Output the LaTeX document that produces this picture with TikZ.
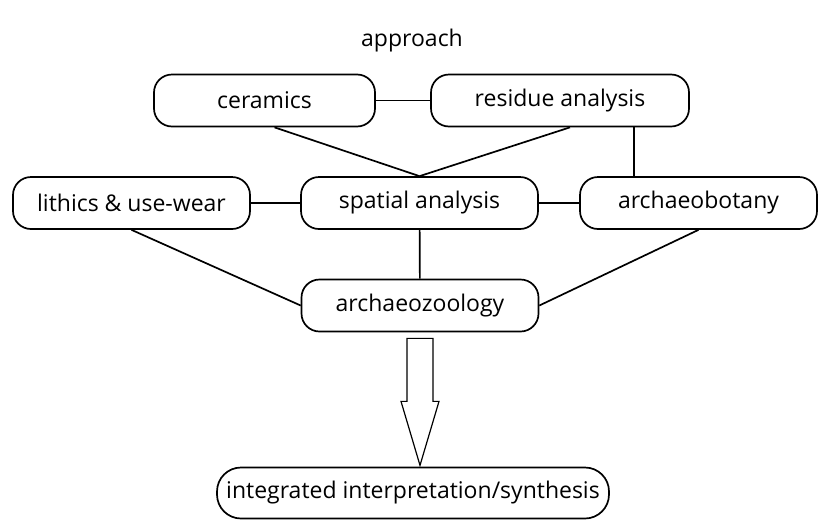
\documentclass[tikz,border=0pt]{standalone}
\usepackage{fontspec}
\setmainfont{Open Sans}
\usetikzlibrary{positioning,calc}

\tikzset{
    field/.style={draw, line width=0.85pt, rounded corners=9pt,
        minimum height=26pt, minimum width=118.5pt, inner sep=0pt},
    link/.style={line width=0.85pt}
}

\begin{document}
\begin{tikzpicture}[x=0.5pt, y=-0.5pt, font=\fontsize{11.5}{14}\selectfont]
\useasboundingbox (0,0) rectangle (823,520);

\node (title) at (412,41) {approach};

\node[field, minimum width=110.5pt] (ceramics) at (264.5,100.5) {ceramics};
\node[field, minimum width=129pt] (residue) at (560,100.5) {residue analysis};
\draw[link] (ceramics) -- (residue);

\node[field] (spatial) at (419.5,203) {spatial analysis};
\node[field] (lithics) at (131.5,203) {lithics \& use-wear};
\node[field] (botany) at (698.5,203) {archaeobotany};
\draw[link] (lithics) -- (spatial);
\draw[link] (spatial) -- (botany);

\draw[link] ([xshift=5pt]ceramics.south) -- (spatial.north);
\draw[link] ([xshift=5pt]residue.south) -- (spatial.north);
\draw[link] ([xshift=37pt]residue.south) -- ([xshift=37pt]residue.south |- botany.north);

\node[field] (zoology) at (420,305.5) {archaeozoology};
\draw[link] (spatial) -- (zoology);
\draw[link] (lithics.south) -- (zoology.west);
\draw[link] (botany.south) -- (zoology.east);

\node[field, rounded corners=12pt, minimum width=196pt, minimum height=25.5pt] (synthesis) at (413,493) {integrated interpretation/synthesis};

% big hollow arrow down to the synthesis
\draw[line width=0.6pt] ($(zoology.south)+(-13,6)$) -- ($(zoology.south)+(-13,69)$)
    -- ($(zoology.south)+(-19,69)$) -- ($(zoology.south)+(0,133)$)
    -- ($(zoology.south)+(19,69)$) -- ($(zoology.south)+(13,69)$)
    -- ($(zoology.south)+(13,6)$) -- cycle;
\end{tikzpicture}
\end{document}
